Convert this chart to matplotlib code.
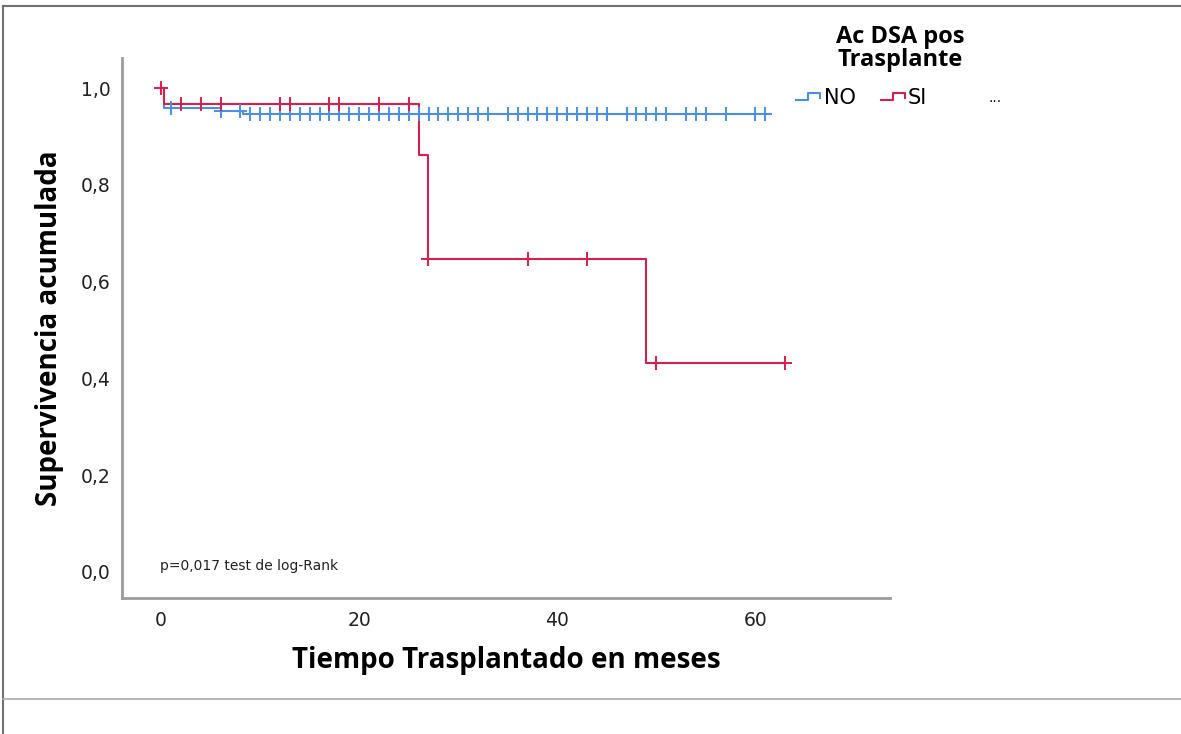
import numpy as np
import matplotlib
matplotlib.use("Agg")
import matplotlib.pyplot as plt
from matplotlib.lines import Line2D

plt.rcParams['font.family'] = ['DejaVu Sans']
BOLD_FAMILY = ['Open Sans', 'DejaVu Sans']

# Kaplan-Meier step curves (time in months, cumulative survival)
no_times = [0.0, 0.3, 6.0, 8.3, 61.5]
no_surv = [1.0, 0.958, 0.952, 0.946, 0.946]
si_times = [0.0, 0.3, 26.0, 26.9, 49.0, 63.0]
si_surv = [1.0, 0.967, 0.862, 0.647, 0.431, 0.431]

# censored observations
no_censored = [1, 6, 8, 9, 10, 11, 12, 13, 14, 15, 16, 17, 18, 19, 20, 21, 22,
               23, 24, 25, 26, 27, 28, 29, 30, 31, 32, 33, 35, 36, 37, 38, 39,
               40, 41, 42, 43, 44, 45, 47, 48, 49, 50, 51, 53, 54, 55, 57, 60, 61]
si_censored = [0, 2, 4, 6, 12, 13, 17, 18, 22, 25, 26.9, 37, 43, 50, 63]

group_labels = ["NO", "SI"]
group_colors = ["#4A8FE2", "#D81E4C"]

x_ticks = [0, 20, 40, 60]
y_ticks = [0.0, 0.2, 0.4, 0.6, 0.8, 1.0]

W, H = 1181, 734
fig = plt.figure(figsize=(W / 100, H / 100), dpi=100)
ax = fig.add_axes([122 / W, 1 - 598 / H, (890 - 122) / W, (598 - 58) / H])


def surv_at(times, surv, t):
    idx = np.searchsorted(times, t, side="right") - 1
    return np.asarray(surv)[idx]


series = [(no_times, no_surv, no_censored), (si_times, si_surv, si_censored)]
for (times, surv, cens), color in zip(series, group_colors):
    ax.step(times, surv, where="post", color=color, lw=1.5, zorder=3)
    cy = surv_at(times, surv, np.asarray(cens))
    ax.plot(cens, cy, ls="none", marker="+", ms=10, mew=1.4, color=color, zorder=4)

ax.set_xlim(-3.95, 73.6)
ax.set_ylim(-0.054, 1.062)
ax.set_xticks(x_ticks)
ax.set_xticklabels([str(v) for v in x_ticks])
ax.set_yticks(y_ticks)
ax.set_yticklabels([f"{v:.1f}".replace(".", ",") for v in y_ticks])
ax.tick_params(length=0, labelsize=13.5, colors="#222222")
ax.tick_params(axis="x", pad=9)
ax.tick_params(axis="y", pad=8)
for s in ("top", "right"):
    ax.spines[s].set_visible(False)
for s in ("left", "bottom"):
    ax.spines[s].set_color("#9a9a9a")
    ax.spines[s].set_linewidth(2)

ax.set_xlabel("Tiempo Trasplantado en meses", fontsize=20, fontweight="bold",
              family=BOLD_FAMILY, labelpad=12)
ax.set_ylabel("Supervivencia acumulada", fontsize=20, fontweight="bold",
              family=BOLD_FAMILY, labelpad=12)

ax.text(0.049, 0.052, "p=0,017 test de log-Rank", transform=ax.transAxes,
        fontsize=10, color="#222222")

# legend block
fig.text(900 / W, 1 - 37 / H, "Ac DSA pos", ha="center", va="center",
         fontsize=17, fontweight="bold", family=BOLD_FAMILY)
fig.text(900 / W, 1 - 60 / H, "Trasplante", ha="center", va="center",
         fontsize=17, fontweight="bold", family=BOLD_FAMILY)


def step_icon(x0, y0, color):
    xs = np.array([x0, x0 + 12, x0 + 12, x0 + 24, x0 + 24]) / W
    ys = 1 - np.array([y0 + 4, y0 + 4, y0 - 3, y0 - 3, y0 + 2]) / H
    fig.add_artist(Line2D(xs, ys, color=color, lw=1.5))


step_icon(796, 96, group_colors[0])
fig.text(824 / W, 1 - 98 / H, group_labels[0], ha="left", va="center", fontsize=15)
step_icon(881, 96, group_colors[1])
fig.text(908 / W, 1 - 98 / H, group_labels[1], ha="left", va="center", fontsize=15)
fig.text(989 / W, 1 - 98 / H, "...", ha="left", va="center", fontsize=10)

# outer panel frame
fig.add_artist(Line2D([3 / W, 1], [1 - 6 / H, 1 - 6 / H], color="#707070", lw=1.5))
fig.add_artist(Line2D([3 / W, 3 / W], [0, 1 - 6 / H], color="#707070", lw=1.5))
fig.add_artist(Line2D([3 / W, 1], [1 - 699 / H, 1 - 699 / H], color="#aaaaaa", lw=1.2))

fig.savefig("out.png", dpi=100)
